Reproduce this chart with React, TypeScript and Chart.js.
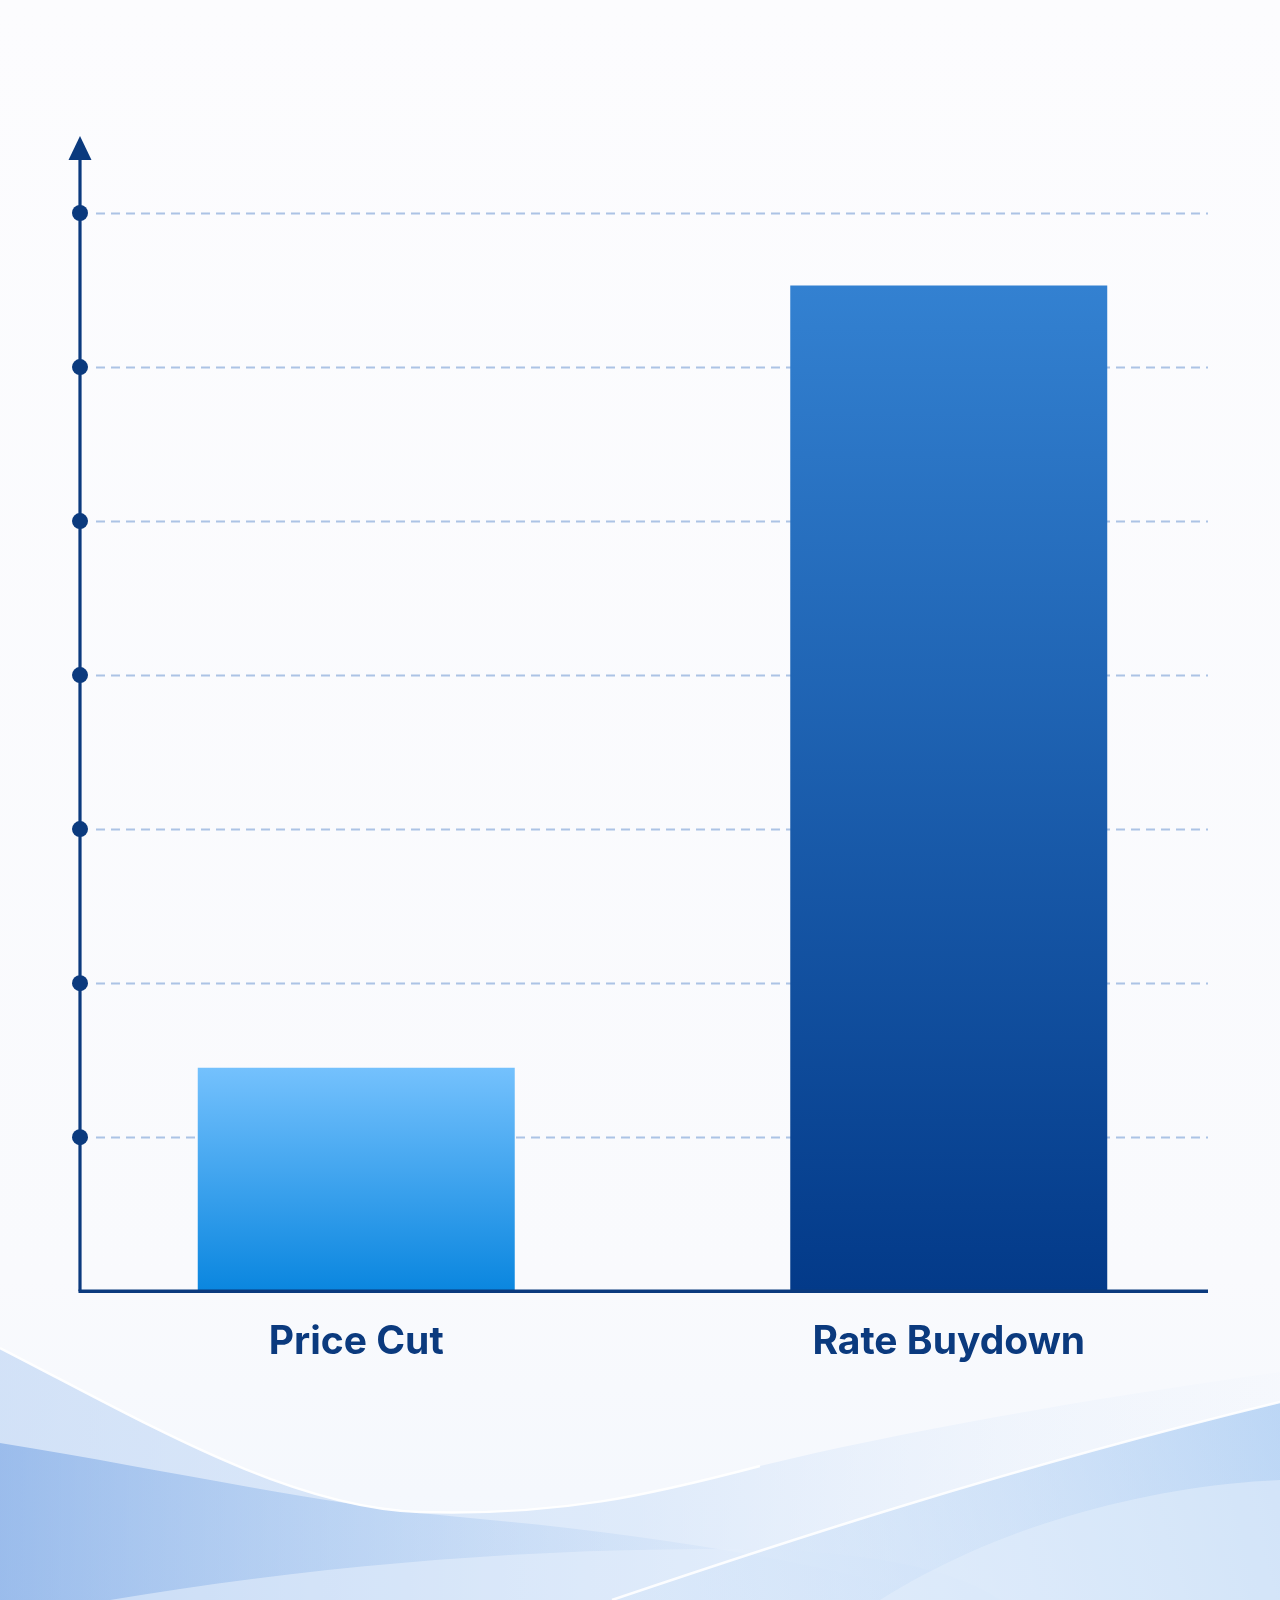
import { useEffect, useRef } from 'react';
import { Chart, registerables } from 'chart.js';

Chart.register(...registerables);

const CATEGORIES = ['Price Cut', 'Rate Buydown'];
const VALUES = [1.45, 6.53];
const Y_TICKS = [1, 2, 3, 4, 5, 6, 7];
const Y_MAX = 7.5;

const NAVY = '#0b3a7e';
const BAR_GRADIENTS = [
  ['#74c1fd', '#0a86df'],
  ['#3381d1', '#033a89'],
];

// soft page background with the blue waves at the bottom
const backgroundPlugin = {
  id: 'pageBackground',
  beforeDraw(chart: any) {
    const { ctx, width: w, height: h } = chart;
    ctx.save();
    const bg = ctx.createLinearGradient(0, 0, 0, h);
    bg.addColorStop(0, '#fcfcfe');
    bg.addColorStop(0.8, '#f9fafd');
    bg.addColorStop(1, '#f3f7fd');
    ctx.fillStyle = bg;
    ctx.fillRect(0, 0, w, h);

    // pale wave under the top curve, fading to the right
    const g1 = ctx.createLinearGradient(0, 0, w, 0);
    g1.addColorStop(0, 'rgba(190,213,244,0.65)');
    g1.addColorStop(0.5, 'rgba(205,224,248,0.55)');
    g1.addColorStop(0.8, 'rgba(215,230,250,0.2)');
    g1.addColorStop(1, 'rgba(215,230,250,0.05)');
    ctx.beginPath();
    ctx.moveTo(0, 1348);
    ctx.bezierCurveTo(150, 1425, 290, 1508, 420, 1512);
    ctx.bezierCurveTo(560, 1516, 650, 1495, 760, 1466);
    ctx.bezierCurveTo(900, 1432, 1080, 1400, 1280, 1372);
    ctx.lineTo(1280, h);
    ctx.lineTo(0, h);
    ctx.closePath();
    ctx.fillStyle = g1;
    ctx.fill();

    // darker band on the left
    const g2 = ctx.createLinearGradient(0, 0, 950, 0);
    g2.addColorStop(0, 'rgba(110,158,226,0.55)');
    g2.addColorStop(0.4, 'rgba(140,182,235,0.35)');
    g2.addColorStop(1, 'rgba(190,215,245,0.0)');
    ctx.beginPath();
    ctx.moveTo(0, 1443);
    ctx.bezierCurveTo(180, 1472, 320, 1505, 470, 1518);
    ctx.bezierCurveTo(650, 1534, 820, 1562, 950, h);
    ctx.lineTo(0, h);
    ctx.closePath();
    ctx.fillStyle = g2;
    ctx.fill();

    // lighter swell along the bottom
    ctx.beginPath();
    ctx.moveTo(110, h);
    ctx.bezierCurveTo(300, 1568, 500, 1550, 700, 1549);
    ctx.bezierCurveTo(850, 1548, 950, 1565, 1000, h);
    ctx.closePath();
    ctx.fillStyle = 'rgba(228,239,251,0.6)';
    ctx.fill();

    // rising blue wedge on the right
    const g4 = ctx.createLinearGradient(620, h, 1280, 1400);
    g4.addColorStop(0, 'rgba(205,225,248,0.25)');
    g4.addColorStop(1, 'rgba(150,192,240,0.6)');
    ctx.beginPath();
    ctx.moveTo(612, h);
    ctx.bezierCurveTo(760, 1550, 1000, 1470, 1280, 1402);
    ctx.lineTo(1280, h);
    ctx.closePath();
    ctx.fillStyle = g4;
    ctx.fill();

    ctx.beginPath();
    ctx.moveTo(880, h);
    ctx.bezierCurveTo(990, 1530, 1140, 1486, 1280, 1480);
    ctx.lineTo(1280, h);
    ctx.closePath();
    ctx.fillStyle = 'rgba(228,239,251,0.55)';
    ctx.fill();

    // white highlights on the wave edges
    ctx.strokeStyle = 'rgba(255,255,255,0.95)';
    ctx.lineWidth = 2.5;
    ctx.beginPath();
    ctx.moveTo(0, 1348);
    ctx.bezierCurveTo(150, 1425, 290, 1508, 420, 1512);
    ctx.bezierCurveTo(560, 1516, 650, 1495, 760, 1466);
    ctx.stroke();
    ctx.strokeStyle = 'rgba(255,255,255,0.9)';
    ctx.beginPath();
    ctx.moveTo(612, h);
    ctx.bezierCurveTo(760, 1550, 1000, 1470, 1280, 1402);
    ctx.stroke();
    ctx.restore();
  },
};

// dashed guides, arrow axis with dots, baseline
const axisPlugin = {
  id: 'arrowAxes',
  beforeDatasetsDraw(chart: any) {
    const { ctx, chartArea, scales } = chart;
    const y = scales.y;
    const axisX = chartArea.left + 20;
    const endX = chartArea.right - 37;
    ctx.save();
    ctx.strokeStyle = 'rgba(158,184,224,0.85)';
    ctx.lineWidth = 2;
    ctx.setLineDash([9, 6]);
    Y_TICKS.forEach(t => {
      const py = Math.round(y.getPixelForValue(t)) + 0.5;
      ctx.beginPath();
      ctx.moveTo(axisX + 16, py);
      ctx.lineTo(endX, py);
      ctx.stroke();
    });
    ctx.restore();
  },
  afterDatasetsDraw(chart: any) {
    const { ctx, chartArea, scales } = chart;
    const y = scales.y;
    const axisX = chartArea.left + 20;
    const endX = chartArea.right - 37;
    const base = y.getPixelForValue(0);
    const tip = y.getPixelForValue(Y_MAX);
    ctx.save();
    ctx.strokeStyle = NAVY;
    ctx.fillStyle = NAVY;
    // baseline
    ctx.lineWidth = 3.5;
    ctx.beginPath();
    ctx.moveTo(axisX - 1.5, base);
    ctx.lineTo(endX, base);
    ctx.stroke();
    // vertical axis
    ctx.lineWidth = 3.2;
    ctx.beginPath();
    ctx.moveTo(axisX, base);
    ctx.lineTo(axisX, tip + 20);
    ctx.stroke();
    // arrow head
    ctx.beginPath();
    ctx.moveTo(axisX, tip);
    ctx.lineTo(axisX + 11.5, tip + 24);
    ctx.lineTo(axisX - 11.5, tip + 24);
    ctx.closePath();
    ctx.fill();
    // tick dots
    Y_TICKS.forEach(t => {
      ctx.beginPath();
      ctx.arc(axisX, y.getPixelForValue(t), 8, 0, Math.PI * 2);
      ctx.fill();
    });
    ctx.restore();
  },
};

export default function App() {
  const canvasRef = useRef<HTMLCanvasElement>(null);

  useEffect(() => {
    document.body.style.margin = '0';
    if (!canvasRef.current) return;

    const chart = new Chart(canvasRef.current, {
      type: 'bar',
      data: {
        labels: CATEGORIES,
        datasets: [{
          data: VALUES,
          backgroundColor: (c: any) => {
            const { chart: ch, dataIndex } = c;
            const yScale = ch.scales?.y;
            const stops = BAR_GRADIENTS[dataIndex] || BAR_GRADIENTS[0];
            if (!yScale || !ch.chartArea) return stops[1];
            const top = yScale.getPixelForValue(VALUES[dataIndex]);
            const bottom = yScale.getPixelForValue(0);
            const g = ch.ctx.createLinearGradient(0, top, 0, bottom);
            g.addColorStop(0, stops[0]);
            g.addColorStop(1, stops[1]);
            return g;
          },
          borderWidth: 0,
          categoryPercentage: 1,
          barPercentage: 0.535,
        }],
      },
      options: {
        responsive: true,
        maintainAspectRatio: false,
        animation: false,
        layout: { padding: { top: 136, left: 60, right: 35, bottom: 214 } },
        plugins: { legend: { display: false }, tooltip: { enabled: false } },
        scales: {
          x: {
            grid: { display: false },
            border: { display: false },
            ticks: {
              color: NAVY,
              padding: 20,
              font: { family: 'Inter', size: 39, weight: 'bold' },
            },
          },
          y: {
            display: false,
            min: 0,
            max: Y_MAX,
          },
        },
      },
      plugins: [backgroundPlugin, axisPlugin],
    });

    return () => chart.destroy();
  }, []);

  return (
    <div style={{ position: 'relative', width: 1280, height: 1600 }}>
      <canvas ref={canvasRef} />
    </div>
  );
}
